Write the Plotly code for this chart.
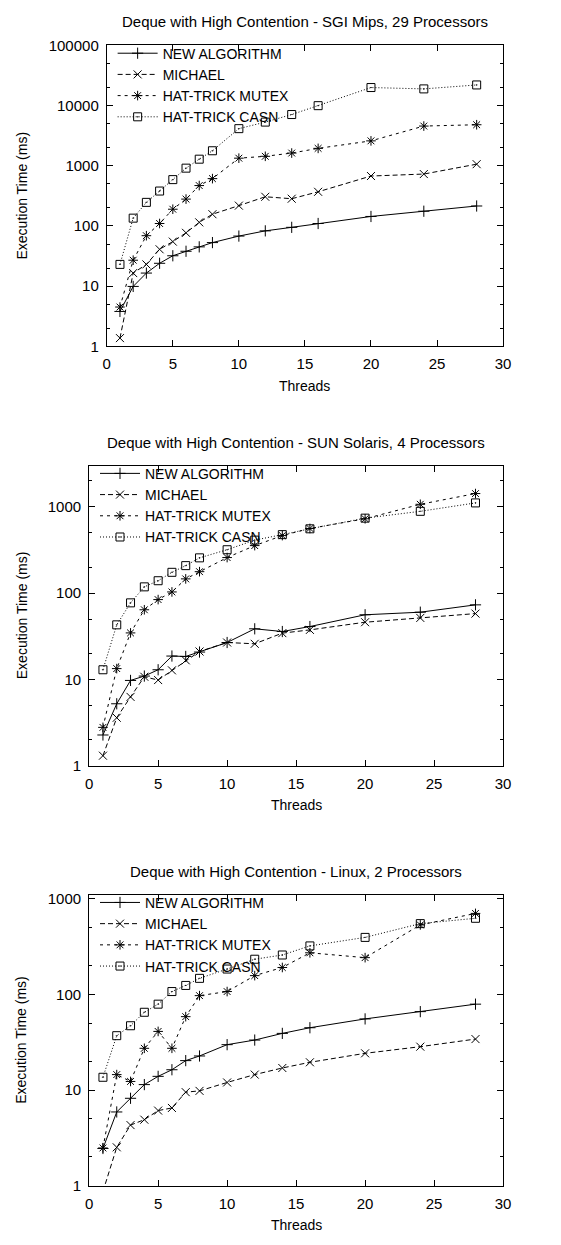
import math
import plotly.graph_objects as go

# ---------------- data ----------------
threads = [1, 2, 3, 4, 5, 6, 7, 8, 10, 12, 14, 16, 20, 24, 28]
series_names = ["NEW ALGORITHM", "MICHAEL", "HAT-TRICK MUTEX", "HAT-TRICK CASN"]

# SGI Mips, 29 Processors
sgi_new = [3.8, 9.9, 16.5, 24, 32, 38, 45, 53, 68, 83, 95, 110, 144, 176, 215]
sgi_michael = [1.37, 16.5, 23, 41, 55, 77, 115, 157, 218, 306, 284, 370, 677, 730, 1065]
sgi_mutex = [4.5, 27, 69, 110, 190, 280, 470, 613, 1340, 1440, 1630, 1950, 2600, 4580, 4820]
sgi_casn = [23, 135, 247, 381, 590, 915, 1290, 1780, 4150, 5330, 7120, 10000, 20000, 19000, 22100]

# SUN Solaris, 4 Processors
sun_new = [2.26, 5.2, 9.7, 10.9, 12.9, 18.6, 18.4, 20.7, 26.7, 38.5, 35.8, 40.9, 56, 60, 73]
sun_michael = [1.3, 3.58, 6.25, 10.7, 9.8, 12.7, 16.6, 21, 26.7, 25.8, 34.3, 37.4, 45.9, 51.5, 57.8]
sun_mutex = [2.77, 13.3, 34.5, 64, 84, 103, 146, 177, 258, 355, 464, 561, 727, 1070, 1425]
sun_casn = [12.9, 42.8, 77, 118, 139, 174, 208, 256, 318, 411, 476, 556, 739, 887, 1110]

# Linux, 2 Processors
lin_new = [2.45, 5.9, 8.2, 11.4, 13.9, 16.3, 20.3, 22.7, 29.8, 33.3, 39.1, 44.8, 55.4, 66, 79]
lin_michael = [0.87, 2.52, 4.3, 4.9, 6.1, 6.5, 9.5, 9.8, 12, 14.5, 17, 19.5, 24.2, 28.4, 34.1]
lin_mutex = [2.48, 14.5, 12.3, 27.3, 41, 27.3, 58.5, 97, 107, 157, 191, 272, 242, 532, 702]
lin_casn = [13.6, 37, 47, 65, 79, 107, 124, 147, 184, 233, 258, 321, 394, 549, 624]

titles = [
    "Deque with High Contention - SGI Mips, 29 Processors",
    "Deque with High Contention - SUN Solaris, 4 Processors",
    "Deque with High Contention - Linux, 2 Processors",
]
y_ranges = [[1, 100000], [1, 3000], [1, 1100]]
y_ticks_1 = [1, 10, 100, 1000, 10000, 100000]
y_ticks_2 = [1, 10, 100, 1000]
y_ticks_3 = [1, 10, 100, 1000]
x_ticks = [0, 5, 10, 15, 20, 25, 30]
x_title = "Threads"
y_title = "Execution Time (ms)"

panel_data = [
    [sgi_new, sgi_michael, sgi_mutex, sgi_casn],
    [sun_new, sun_michael, sun_mutex, sun_casn],
    [lin_new, lin_michael, lin_mutex, lin_casn],
]
panel_yticks = [y_ticks_1, y_ticks_2, y_ticks_3]

# ---------------- layout / style ----------------
W, H = 561, 1245
FONT = "Liberation Sans, Arial, Helvetica, sans-serif"
FS_TICK = 15
FS_TITLE = 15
FS_LABEL = 14
FS_LEGEND = 14
# plot boxes in pixels: left, right, top, bottom
boxes = [
    (105, 510, 37, 342),
    (87, 510, 463, 767),
    (87, 510, 898, 1193),
]
styles = [
    dict(dash="solid", symbol="cross-thin-open", size=8),
    dict(dash="5px,3px", symbol="x-thin-open", size=8),
    dict(dash="3px,4px", symbol="asterisk-open", size=8),
    dict(dash="1px,2px", symbol="square-open-dot", size=8),
]

fig = go.Figure()
annotations = []
legend_names = ["legend", "legend2", "legend3"]

for p in range(3):
    xa = "x" if p == 0 else f"x{p+1}"
    ya = "y" if p == 0 else f"y{p+1}"
    for s in range(4):
        st = styles[s]
        fig.add_trace(go.Scatter(
            x=threads, y=panel_data[p][s], name=series_names[s],
            xaxis=xa, yaxis=ya, mode="lines+markers",
            line=dict(color="black", width=1, dash=st["dash"]),
            marker=dict(symbol=st["symbol"], size=st["size"], color="black",
                        line=dict(color="black", width=1)),
            legend=legend_names[p],
        ))

    l, r, t, b = boxes[p]
    xdom = [l / W, r / W]
    ydom = [1 - b / H, 1 - t / H]
    axis_common = dict(
        showline=True, linecolor="black", linewidth=1, mirror="ticks",
        ticks="inside", ticklen=6, tickcolor="black", tickwidth=1,
        showgrid=False, zeroline=False,
        tickfont=dict(family=FONT, size=FS_TICK, color="black"),
    )
    fig.update_layout(**{
        ("xaxis" if p == 0 else f"xaxis{p+1}"): dict(
            domain=xdom, range=[0, 30], tickvals=x_ticks,
            anchor=ya, ticklabelstandoff=4, **axis_common),
        ("yaxis" if p == 0 else f"yaxis{p+1}"): dict(
            domain=ydom, type="log",
            range=[0, math.log10(y_ranges[p][1])],
            tickvals=panel_yticks[p], ticktext=[str(v) for v in panel_yticks[p]],
            anchor=xa, ticklabelstandoff=4,
            minor=dict(ticks="inside", ticklen=3, tickcolor="black", dtick="D2", showgrid=False),
            **axis_common),
    })
    # legend
    fig.update_layout(**{legend_names[p]: dict(
        x=(l + 6) / W, y=1 - (t - 8) / H, xanchor="left", yanchor="top",
        bgcolor="rgba(0,0,0,0)", borderwidth=0,
        font=dict(family=FONT, size=FS_LEGEND, color="black"),
        itemwidth=40, tracegroupgap=0,
    )})
    # title
    annotations.append(dict(
        text=titles[p], xref="paper", yref="paper",
        x=(l + r) / 2 / W, y=1 - (t - 24) / H,
        xanchor="center", yanchor="middle", showarrow=False,
        font=dict(family=FONT, size=FS_TITLE, color="black")))
    # x title
    annotations.append(dict(
        text=x_title, xref="paper", yref="paper",
        x=(l + r) / 2 / W, y=1 - (b + 40) / H,
        xanchor="center", yanchor="middle", showarrow=False,
        font=dict(family=FONT, size=FS_LABEL, color="black")))
    # y title
    annotations.append(dict(
        text=y_title, xref="paper", yref="paper", textangle=-90,
        x=18 / W, y=1 - (t + b) / 2 / H,
        xanchor="center", yanchor="middle", showarrow=False,
        font=dict(family=FONT, size=FS_LABEL, color="black")))

fig.update_layout(
    width=W, height=H, margin=dict(l=0, r=0, t=0, b=0),
    paper_bgcolor="white", plot_bgcolor="white",
    annotations=annotations, showlegend=True,
    font=dict(family=FONT, size=FS_LABEL, color="black"),
)

fig.write_html(
    "out.html",
    config={"displayModeBar": False},
    post_script="document.body.style.margin='0';document.body.style.overflow='hidden';",
)
